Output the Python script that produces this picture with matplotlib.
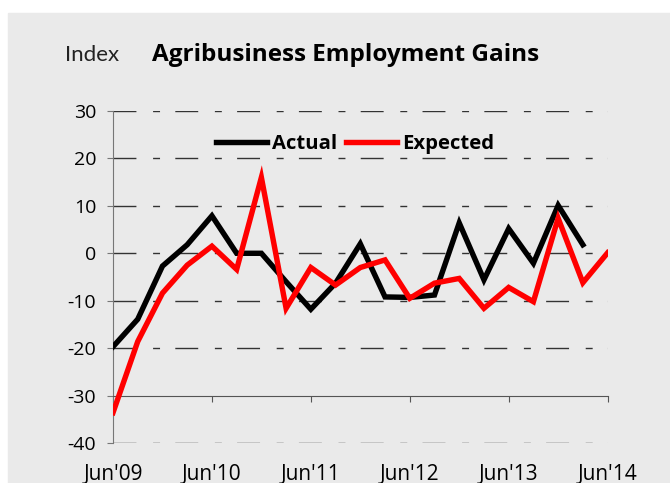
import matplotlib
matplotlib.use("Agg")
import matplotlib.pyplot as plt
import matplotlib.patches as patches
import numpy as np

# quarterly, Jun'09 .. Jun'14
quarters = np.arange(21)
tick_pos = [0, 4, 8, 12, 16, 20]
tick_labels = ["Jun'09", "Jun'10", "Jun'11", "Jun'12", "Jun'13", "Jun'14"]

actual = [-19.7, -13.9, -2.7, 1.8, 7.9, 0.0, 0.0, -6.0, -11.8, -6.3,
          2.0, -9.2, -9.3, -8.8, 6.4, -5.6, 5.2, -2.1, 10.1, 1.8]
expected = [-33.6, -18.6, -8.4, -2.5, 1.5, -3.4, 16.0, -11.6, -3.0, -6.7,
            -3.0, -1.4, -9.5, -6.3, -5.3, -11.6, -7.2, -10.2, 7.4, -6.2, 0.1]

bg = "#eaeaea"
plt.rcParams['font.family'] = ['Open Sans', 'DejaVu Sans']
plt.rcParams['axes.unicode_minus'] = False

fig = plt.figure(figsize=(6.7, 4.83), dpi=100)
fig.patch.set_facecolor("white")
fig.patches.append(patches.Rectangle((8/670, 0), 1, 1 - 13/483,
                                     transform=fig.transFigure, color=bg, zorder=-10))

ax = fig.add_axes([113/670, 1 - 443/483, 494.6/670, 332/483])
ax.set_facecolor(bg)

ax.plot(quarters[:len(actual)], actual, color="black", lw=3.9, label="Actual",
        solid_joinstyle="miter", zorder=3)
ax.plot(quarters, expected, color="red", lw=3.9, label="Expected",
        solid_joinstyle="miter", zorder=4)

ax.set_xlim(0, 20)
ax.set_ylim(-40, 30)

# dashed gridlines (skip -30, where the x axis sits)
for yv in [-40, -20, -10, 0, 10, 20, 30]:
    gl, = ax.plot([0, 20], [yv, yv], color="#333333", lw=1.0, zorder=1)
    gl.set_dashes([16.5, 12, 5, 11])

ax.spines['top'].set_visible(False)
ax.spines['right'].set_visible(False)
ax.spines['left'].set_color("#777777")
ax.spines['bottom'].set_color("#555555")
ax.spines['bottom'].set_position(('data', -30))

ax.set_yticks(np.arange(-40, 31, 10))
ax.set_xticks(tick_pos)
ax.set_xticklabels(tick_labels)
ax.tick_params(axis='y', direction='out', length=4, color="#777777",
               labelsize=14, pad=8)
ax.tick_params(axis='x', direction='out', length=4, color="#555555",
               labelsize=15, pad=45.5)

leg = ax.legend(loc="center", bbox_to_anchor=(0.49, 0.90), ncol=2, frameon=False,
                prop={'weight': 'bold', 'size': 14.6}, handlelength=2.5,
                handletextpad=0.25, columnspacing=0.45)

fig.text(65/670, 1 - 55/483, "Index", fontsize=16, color="#222222",
         family=['Lato', 'DejaVu Sans'], va="center", ha="left")
fig.text(152/670, 1 - 55/483, "Agribusiness Employment Gains", fontsize=17.5,
         fontweight="bold", va="center", ha="left")

fig.savefig("out.png", dpi=100, facecolor=fig.get_facecolor())
